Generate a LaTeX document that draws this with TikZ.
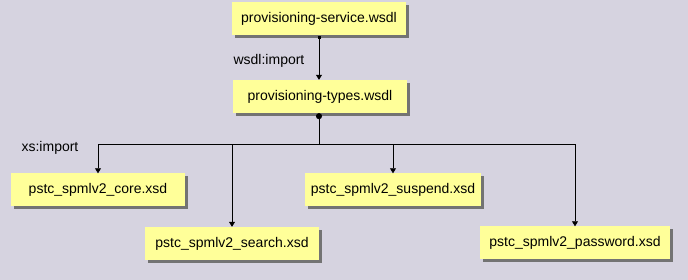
\documentclass[tikz,border=0pt]{standalone}
\usepackage{fontspec}
\setmainfont{Liberation Sans}
\usepackage{tikz}
\usetikzlibrary{arrows.meta,positioning,shadows}

\definecolor{bgcol}{RGB}{214,211,224}
\definecolor{notecol}{RGB}{255,255,153}

\begin{document}
\begin{tikzpicture}[
	x=1pt, y=-1pt,
	font=\fontsize{14}{16}\selectfont,
	>={Triangle[width=6pt,length=5pt]},
	doc/.style={rectangle, fill=notecol, minimum width=174pt, minimum height=33pt, inner xsep=6pt,
		drop shadow={shadow xshift=3pt, shadow yshift=-3pt, fill=black!55, opacity=1}},
	seta/.style={->, semithick, black},
	lbl/.style={inner sep=0pt},
]
\useasboundingbox (0,0) rectangle (688,280);
\fill[bgcol] (0,0) rectangle (688,280);

\node[doc] (svc) at (319,19) {provisioning-service.wsdl};
\node[doc] (types) at (320,96.5) {provisioning-types.wsdl};
\node[doc] (core) at (98,190) {pstc\_spmlv2\_core.xsd};
\node[doc] (search) at (232,243.5) {pstc\_spmlv2\_search.xsd};
\node[doc] (suspend) at (393,190) {pstc\_spmlv2\_suspend.xsd};
\node[doc, minimum width=190pt] (passwd) at (575,243) {pstc\_spmlv2\_password.xsd};

\node[lbl] (wimp) at (269,61) {wsdl:import};
\node[lbl] (ximp) at (50,148) {xs:import};

\coordinate (bus) at (319,144);
\draw[seta, {Square[length=3pt]}->] (svc.south -| bus) -- (types.north -| bus);
\draw[semithick, {Circle[length=6pt]}-] (types.south -| bus) -- (bus);
\draw[seta] (bus) -| (core);
\draw[seta] (bus) -| (search);
\draw[seta] (bus) -| (suspend);
\draw[seta] (bus) -| (passwd);
\end{tikzpicture}
\end{document}
